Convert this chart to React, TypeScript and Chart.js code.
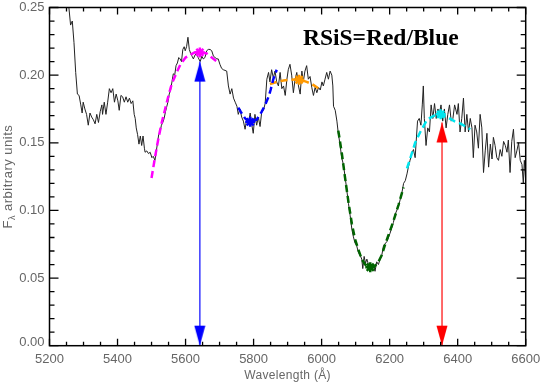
import React, { useEffect, useRef } from "react";
import { Chart, registerables } from "chart.js";
Chart.register(...registerables);

// ---- Axis ticks ----
const xTickValues = [5200, 5400, 5600, 5800, 6000, 6200, 6400, 6600];
const xTickLabels = ["5200", "5400", "5600", "5800", "6000", "6200", "6400", "6600"];
const yTickValues = [0, 0.05, 0.1, 0.15, 0.2, 0.25];
const yTickLabels = ["0.00", "0.05", "0.10", "0.15", "0.20", "0.25"];
const xTitle = "Wavelength (Å)";
const yTitleMain = "F";
const yTitleSub = "λ";
const yTitleRest = " arbitrary units";
const annotationText = "RSiS=Red/Blue";
const annotationAt = { x: 5945, y: 0.2225 };

// ---- Spectrum ----
const specWave = [
  5257, 5262, 5267, 5272, 5277, 5282, 5287, 5292, 5296, 5299, 5304, 5309, 5314, 5319, 5324, 5329, 5334, 5339, 5344, 5349,
  5354, 5356, 5361, 5366, 5371, 5376, 5381, 5386, 5391, 5396, 5401, 5405, 5410, 5415, 5420, 5425, 5430, 5435, 5440, 5445,
  5449, 5452, 5455, 5459, 5463, 5467, 5471, 5475, 5479,
  5481, 5486, 5491, 5496, 5501, 5505, 5510, 5513, 5517, 5521, 5525, 5529, 5533, 5537, 5541, 5545, 5549, 5552, 5556, 5560,
  5564, 5568, 5572, 5576, 5580, 5584, 5588, 5592, 5596, 5599, 5603, 5607, 5611, 5615, 5619, 5623, 5628, 5633, 5637, 5643,
  5648, 5652, 5657, 5662, 5667, 5672, 5677, 5682, 5687, 5692, 5696, 5701, 5706, 5711,
  5721, 5726, 5731, 5736, 5741, 5746, 5751, 5755, 5760, 5765, 5770, 5775, 5780, 5785, 5790, 5795, 5799, 5804, 5809, 5814,
  5819, 5824, 5829, 5834, 5839, 5844, 5848, 5853, 5858, 5863, 5868, 5873, 5878, 5883, 5888, 5893, 5898, 5902, 5907, 5912,
  5917, 5922, 5927, 5932, 5937, 5942, 5946,
  5951, 5956, 5961, 5966, 5971, 5976, 5981, 5986, 5991, 5996, 6001, 6005, 6010, 6015, 6020, 6025, 6030, 6033, 6035, 6040,
  6045, 6049, 6054, 6059, 6064, 6069, 6074, 6079, 6084, 6089, 6093, 6098, 6103, 6108, 6113, 6118, 6121, 6125, 6129, 6133,
  6138, 6143, 6148, 6152, 6157, 6162, 6167, 6172, 6177, 6182,
  6192, 6201, 6211, 6216, 6226, 6236, 6241, 6246, 6251, 6255, 6260, 6265, 6270, 6275, 6278, 6282, 6287, 6292, 6296, 6299,
  6302, 6307, 6312, 6317, 6322, 6327, 6332, 6337, 6342, 6346, 6351, 6356, 6361, 6366, 6371, 6376, 6381, 6386, 6391,
  6398, 6402, 6407, 6412, 6417, 6422, 6427, 6432, 6437, 6442, 6446, 6451, 6456, 6461, 6466, 6471, 6476, 6481, 6486, 6491,
  6496, 6501, 6505, 6510, 6515, 6520, 6525, 6530, 6535, 6540, 6545, 6549, 6554, 6559, 6564, 6569, 6574, 6579, 6584, 6589,
  6593, 6596, 6600,
];
const specFlux = [
  0.25, 0.237, 0.24, 0.224, 0.202, 0.186, 0.185, 0.178, 0.172, 0.18, 0.175, 0.171, 0.163, 0.172, 0.169, 0.167, 0.164, 0.171, 0.165, 0.173,
  0.178, 0.171, 0.18, 0.171, 0.18, 0.19, 0.187, 0.19, 0.18, 0.186, 0.181, 0.174, 0.185, 0.184, 0.18, 0.184, 0.18, 0.183, 0.179, 0.181,
  0.171, 0.168, 0.161, 0.156, 0.149, 0.155, 0.148, 0.155, 0.146,
  0.143, 0.144, 0.142, 0.143, 0.139, 0.14, 0.137, 0.142, 0.149, 0.156, 0.158, 0.163, 0.165, 0.168, 0.173, 0.177, 0.181, 0.186, 0.189, 0.195,
  0.201, 0.2, 0.207, 0.209, 0.213, 0.212, 0.21, 0.219, 0.221, 0.218, 0.221, 0.228, 0.219, 0.216, 0.214, 0.212, 0.215, 0.216, 0.213, 0.21,
  0.214, 0.212, 0.213, 0.218, 0.219, 0.219, 0.218, 0.214, 0.213, 0.212, 0.212, 0.208, 0.205, 0.204,
  0.203, 0.192, 0.186, 0.19, 0.183, 0.18, 0.177, 0.171, 0.175, 0.169, 0.166, 0.16, 0.168, 0.165, 0.172, 0.163, 0.157, 0.171, 0.163, 0.169,
  0.162, 0.173, 0.174, 0.179, 0.197, 0.202, 0.195, 0.204, 0.198, 0.203, 0.195, 0.192, 0.202, 0.19, 0.192, 0.185, 0.197, 0.204, 0.208, 0.2,
  0.187, 0.197, 0.202, 0.192, 0.186, 0.203, 0.195,
  0.203, 0.207, 0.197, 0.199, 0.191, 0.185, 0.191, 0.187, 0.191, 0.189, 0.195, 0.192, 0.197, 0.202, 0.197, 0.203, 0.2, 0.192, 0.177, 0.174,
  0.166, 0.157, 0.149, 0.139, 0.134, 0.125, 0.115, 0.105, 0.096, 0.086, 0.081, 0.076, 0.074, 0.069, 0.067, 0.064, 0.057, 0.066, 0.061, 0.064,
  0.06, 0.061, 0.058, 0.06, 0.055, 0.062, 0.06, 0.064, 0.067, 0.074,
  0.077, 0.083, 0.091, 0.097, 0.103, 0.113, 0.12, 0.122, 0.127, 0.132, 0.137, 0.142, 0.145, 0.139, 0.151, 0.166, 0.168, 0.163, 0.178, 0.192,
  0.168, 0.148, 0.161, 0.158, 0.178, 0.168, 0.179, 0.168, 0.175, 0.171, 0.178, 0.166, 0.175, 0.161, 0.171, 0.178, 0.166, 0.168, 0.178,
  0.171, 0.179, 0.158, 0.168, 0.183, 0.158, 0.171, 0.158, 0.168, 0.161, 0.139, 0.163, 0.158, 0.146, 0.171, 0.161, 0.128, 0.144, 0.157, 0.132,
  0.149, 0.138, 0.154, 0.148, 0.139, 0.137, 0.145, 0.14, 0.151, 0.148, 0.143, 0.152, 0.128, 0.151, 0.16, 0.139, 0.144, 0.15, 0.137, 0.134,
  0.12, 0.137, 0.122,
];

// ---- Fitted feature curves ----
const magentaFitWave = [5500, 5510, 5520, 5530, 5540, 5550, 5560, 5574, 5585, 5600, 5614, 5628, 5643, 5662, 5677, 5692];
const magentaFitFlux = [0.124, 0.139, 0.153, 0.165, 0.175, 0.185, 0.194, 0.202, 0.208, 0.213, 0.215, 0.217, 0.217, 0.216, 0.213, 0.21];
const blueFitWave = [5755, 5762, 5775, 5790, 5809, 5824, 5834, 5844, 5850, 5858, 5868];
const blueFitFlux = [0.176, 0.173, 0.168, 0.1655, 0.167, 0.173, 0.178, 0.184, 0.189, 0.197, 0.204];
const orangeFitWave = [5848, 5868, 5888, 5905, 5934, 5956, 5971, 5986, 5996];
const orangeFitFlux = [0.1935, 0.195, 0.196, 0.1965, 0.197, 0.195, 0.1935, 0.191, 0.189];
const greenFitWave = [6049, 6059, 6069, 6079, 6089, 6098, 6108, 6118, 6128, 6143, 6157, 6167, 6177, 6187, 6197, 6211, 6226, 6241];
const greenFitFlux = [0.159, 0.143, 0.124, 0.106, 0.09, 0.079, 0.071, 0.064, 0.06, 0.058, 0.059, 0.062, 0.067, 0.075, 0.082, 0.092, 0.104, 0.117];
const cyanFitWave = [6251, 6265, 6275, 6290, 6310, 6330, 6350, 6370, 6390, 6410, 6437];
const cyanFitFlux = [0.131, 0.142, 0.15, 0.158, 0.167, 0.17, 0.171, 0.169, 0.166, 0.164, 0.16];

// ---- Marked extrema ----
const starWave = [5642, 5790, 5934, 6143, 6350];
const starFlux = [0.2168, 0.1655, 0.1966, 0.058, 0.171];
const starColors = ["#ff00ff", "#0000ff", "#ff9900", "#006400", "#00e5ee"];

// ---- Arrows (blue & red depth markers) ----
const blueArrowWave = 5642;
const blueArrowFlux = [0, 0.21];
const redArrowWave = 6354;
const redArrowFlux = [0, 0.165];

const zip = (xs: number[], ys: number[]) => xs.map((x, i) => ({ x, y: ys[i] }));

function makeHead(color: string): HTMLCanvasElement {
  const c = document.createElement("canvas");
  c.width = 12;
  c.height = 42;
  const g = c.getContext("2d")!;
  g.fillStyle = color;
  g.beginPath();
  g.moveTo(6, 21);
  g.lineTo(11.5, 41);
  g.lineTo(0.5, 41);
  g.closePath();
  g.fill();
  return c;
}

const framePlugin = {
  id: "frame",
  afterDraw(chart: any) {
    const { ctx, chartArea: a, scales } = chart;
    const xs = scales.x;
    const ys = scales.y;
    ctx.save();
    ctx.strokeStyle = "#000";
    ctx.lineWidth = 1.5;
    ctx.strokeRect(a.left, a.top, a.right - a.left, a.bottom - a.top);
    ctx.lineWidth = 1.3;
    ctx.beginPath();
    // x ticks
    for (let v = 5200; v <= 6600; v += 50) {
      const px = xs.getPixelForValue(v);
      const major = xTickValues.includes(v);
      const len = major ? 7 : 4;
      ctx.moveTo(px, a.bottom);
      ctx.lineTo(px, a.bottom - len);
      ctx.moveTo(px, a.top);
      ctx.lineTo(px, a.top + len);
    }
    // y ticks
    for (let i = 0; i <= 25; i++) {
      const v = i / 100;
      const py = ys.getPixelForValue(v);
      const major = i % 5 === 0;
      const len = major ? 9 : 5;
      ctx.moveTo(a.left, py);
      ctx.lineTo(a.left + len, py);
      ctx.moveTo(a.right, py);
      ctx.lineTo(a.right - len, py);
    }
    ctx.stroke();

    // tick labels
    ctx.fillStyle = "#666";
    ctx.font = "13px 'Liberation Sans'";
    ctx.textAlign = "center";
    ctx.textBaseline = "middle";
    xTickValues.forEach((v, i) => {
      ctx.fillText(xTickLabels[i], xs.getPixelForValue(v), a.bottom + 14);
    });
    ctx.textAlign = "right";
    yTickValues.forEach((v, i) => {
      const py = Math.min(Math.max(ys.getPixelForValue(v), 5), a.bottom - 3);
      ctx.fillText(yTickLabels[i], a.left - 5, py);
    });

    // x title
    (ctx as any).letterSpacing = "0.3px";
    ctx.font = "12px 'Liberation Sans'";
    ctx.textAlign = "center";
    ctx.fillText(xTitle, (a.left + a.right) / 2, a.bottom + 30);

    // y title (rotated)
    ctx.save();
    ctx.translate(12, (a.top + a.bottom) / 2);
    ctx.rotate(-Math.PI / 2);
    ctx.textBaseline = "alphabetic";
    ctx.textAlign = "left";
    (ctx as any).letterSpacing = "0.5px";
    ctx.font = "13px 'Liberation Sans'";
    const w1 = ctx.measureText(yTitleMain).width;
    ctx.font = "9px 'Liberation Sans'";
    const w2 = ctx.measureText(yTitleSub).width;
    ctx.font = "13px 'Liberation Sans'";
    const w3 = ctx.measureText(yTitleRest).width;
    let sx = -(w1 + w2 + w3) / 2;
    ctx.fillText(yTitleMain, sx, 0);
    sx += w1;
    ctx.font = "9px 'Liberation Sans'";
    ctx.fillText(yTitleSub, sx, 3);
    sx += w2;
    ctx.font = "13px 'Liberation Sans'";
    ctx.fillText(yTitleRest, sx, 0);
    ctx.restore();

    // annotation
    (ctx as any).letterSpacing = "0px";
    ctx.fillStyle = "#000";
    ctx.font = "bold 23.5px 'Liberation Serif'";
    ctx.textAlign = "left";
    ctx.textBaseline = "alphabetic";
    ctx.fillText(annotationText, xs.getPixelForValue(annotationAt.x), ys.getPixelForValue(annotationAt.y));
    ctx.restore();
  },
};

export default function App() {
  const ref = useRef<HTMLCanvasElement>(null);
  useEffect(() => {
    document.body.style.margin = "0";
    const canvas = ref.current!;
    const blueHead = makeHead("#0000ff");
    const redHead = makeHead("#ff0000");
    const fit = (w: number[], f: number[], color: string) => ({
      data: zip(w, f),
      borderColor: color,
      borderWidth: 2.5,
      borderDash: [7, 4],
      pointRadius: 0,
      order: 5,
    });
    const chart = new Chart(canvas, {
      type: "line",
      data: {
        datasets: [
          {
            data: zip(specWave, specFlux),
            borderColor: "#222",
            borderWidth: 1,
            pointRadius: 0,
            order: 10,
          },
          fit(magentaFitWave, magentaFitFlux, "#ff00ff"),
          fit(blueFitWave, blueFitFlux, "#0000ff"),
          fit(orangeFitWave, orangeFitFlux, "#ff9900"),
          fit(greenFitWave, greenFitFlux, "#006400"),
          fit(cyanFitWave, cyanFitFlux, "#00e5ee"),
          ...starWave.map((w, i) => ({
            data: [{ x: w, y: starFlux[i] }],
            showLine: false,
            pointStyle: "star" as const,
            pointRadius: 5,
            borderWidth: 2.5,
            borderColor: starColors[i],
            backgroundColor: starColors[i],
            order: 2,
          })),
          {
            data: blueArrowFlux.map((y) => ({ x: blueArrowWave, y })),
            borderColor: "#4545ff",
            borderWidth: 1.6,
            pointStyle: blueHead as any,
            pointRadius: 3,
            pointRotation: [180, 0],
            order: 1,
          },
          {
            data: redArrowFlux.map((y) => ({ x: redArrowWave, y })),
            borderColor: "#ff4545",
            borderWidth: 1.6,
            pointStyle: redHead as any,
            pointRadius: 3,
            pointRotation: [180, 0],
            order: 1,
          },
        ],
      },
      options: {
        responsive: false,
        animation: false,
        devicePixelRatio: 1,
        layout: { padding: { left: 49.5, right: 14.3, top: 0.5, bottom: 36.3 } },
        scales: {
          x: { type: "linear", min: 5200, max: 6600, display: false },
          y: { type: "linear", min: 0, max: 0.25, display: false },
        },
        plugins: { legend: { display: false }, tooltip: { enabled: false } },
        elements: { line: { tension: 0 } },
      },
      plugins: [framePlugin],
    } as any);
    return () => chart.destroy();
  }, []);
  return <canvas ref={ref} width={540} height={382} style={{ display: "block", width: 540, height: 382 }} />;
}
